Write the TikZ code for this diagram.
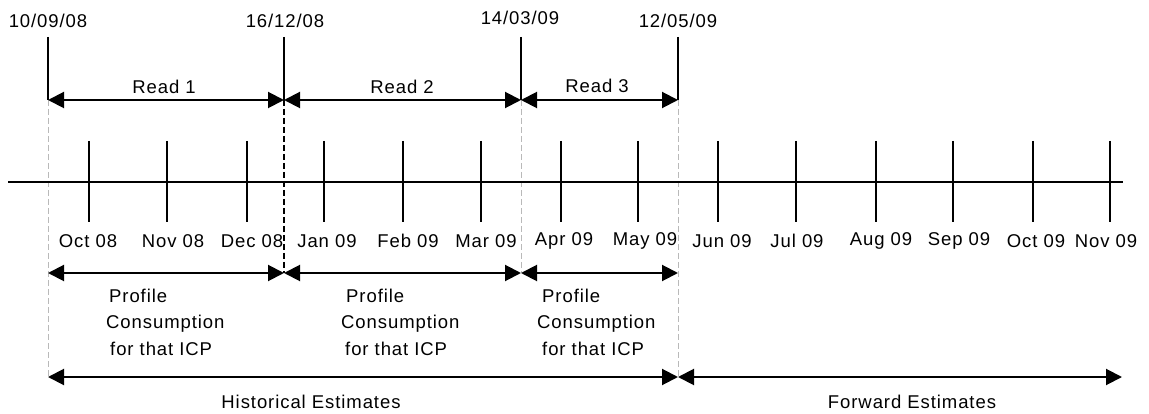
\documentclass[tikz,border=0pt]{standalone}
\usepackage{fontspec}
\setmainfont[LetterSpace=5]{Liberation Sans}
\usetikzlibrary{arrows.meta}
\begin{document}
\begin{tikzpicture}[x=1pt,y=-1pt,
  every node/.style={font=\fontsize{18.5}{26.5}\selectfont, inner sep=0pt},
  thick line/.style={line width=2pt},
  both arrow/.style={line width=2pt, {Triangle[length=16pt,width=16pt]}-{Triangle[length=16pt,width=16pt]}},
  guide/.style={gray!55, line width=0.8pt, dash pattern=on 6pt off 3pt},
  bold dash/.style={line width=2pt, dash pattern=on 6pt off 3pt},
  lbl/.style={anchor=center},
  blk/.style={anchor=west, align=left}]
\useasboundingbox (0,0) rectangle (1149,414);

% read boundary coordinates
\foreach \n/\x in {a/48, b/284, c/521, d/678}{
  \coordinate (top\n) at (\x,37);
  \coordinate (rd\n) at (\x,100);
  \coordinate (pf\n) at (\x,273);
  \coordinate (es\n) at (\x,377);
}
\coordinate (fend) at (1122,377);

% date labels
\node[lbl] (da) at (48,21) {10/09/08};
\node[lbl] (db) at (285,21) {16/12/08};
\node[lbl] (dc) at (520,18) {14/03/09};
\node[lbl] (dd) at (678,21) {12/05/09};

% vertical read lines
\foreach \n in {a,b,c,d}{ \draw[thick line] (top\n) -- (rd\n); }

% guide lines
\draw[guide] (rda) -- (esa);
\draw[guide] (rdc) -- (pfc);
\draw[guide] (rdd) -- (esd);
\draw[bold dash] (rdb) -- (pfb);

% read arrows
\draw[both arrow] (rda) -- (rdb);
\draw[both arrow] (rdb) -- (rdc);
\draw[both arrow] (rdc) -- (rdd);
\node[lbl] (r1) at (164,87) {Read 1};
\node[lbl] (r2) at (402,87) {Read 2};
\node[lbl] (r3) at (597,86) {Read 3};

% timeline
\coordinate (tl) at (8,182);
\coordinate (tr) at (1123,182);
\draw[thick line] (tl) -- (tr);
\foreach \x [count=\i] in {89, 167, 247, 324, 403, 481, 561, 638, 718, 796, 876, 953, 1033, 1110}{
  \coordinate (tt\i) at (\x,141);
  \coordinate (tb\i) at (\x,222);
  \draw[thick line] (tt\i) -- (tb\i);
}
\foreach \x/\m [count=\i] in {88/Oct 08, 173/Nov 08, 252/Dec 08, 327/Jan 09, 408/Feb 09, 486/Mar 09, 564/Apr 09, 645/May 09, 722/Jun 09, 797/Jul 09, 881/Aug 09, 959/Sep 09, 1036/Oct 09, 1106/Nov 09}{
  \node[lbl] (m\i) at (\x,241) {\m};
}

% profile arrows
\draw[both arrow] (pfa) -- (pfb);
\draw[both arrow] (pfb) -- (pfc);
\draw[both arrow] (pfc) -- (pfd);
\node[blk] (p1) at (106,322) {\hspace{3pt}Profile\\Consumption\\\hspace{4pt}for that ICP};
\node[blk] (p2) at (341,322) {\hspace{5pt}Profile\\Consumption\\\hspace{4pt}for that ICP};
\node[blk] (p3) at (537,322) {\hspace{5pt}Profile\\Consumption\\\hspace{5pt}for that ICP};

% estimates arrows
\draw[both arrow] (esa) -- (esd);
\draw[both arrow] (esd) -- (fend);
\node[lbl] (he) at (311,402) {Historical Estimates};
\node[lbl] (fe) at (912,402) {Forward Estimates};
\end{tikzpicture}
\end{document}
